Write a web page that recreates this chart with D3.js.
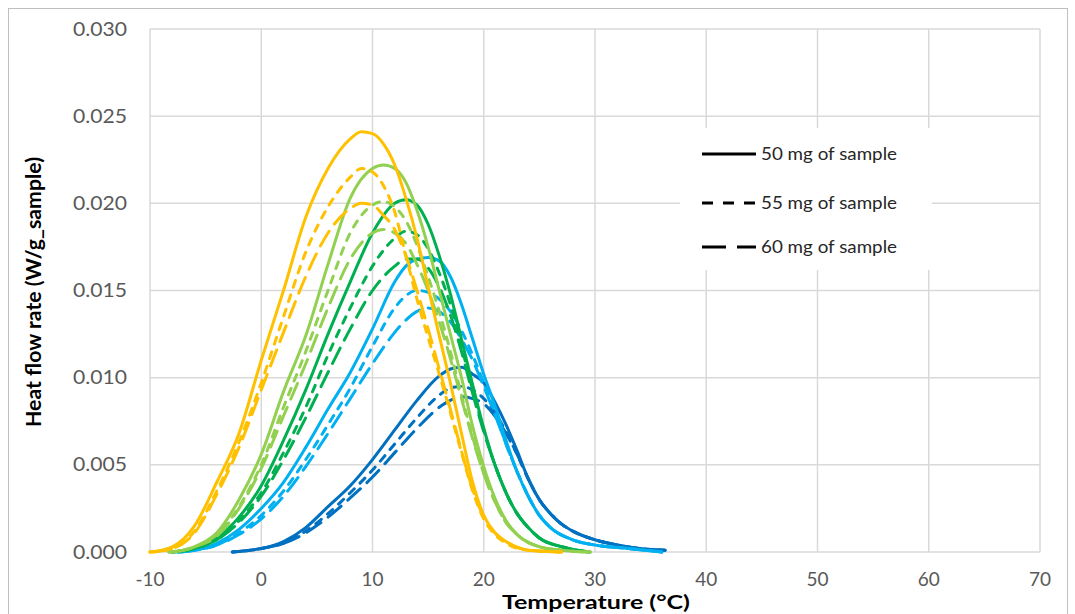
<!DOCTYPE html>
<html>
<head>
<meta charset="utf-8">
<script src="https://cdn.jsdelivr.net/npm/d3@7"></script>
<style>
  body { margin: 0; background: #fff; }
  text { font-family: Lato, "Open Sans", sans-serif; }
</style>
</head>
<body>
<div id="chart"></div>
<script>
const width = 1075;
const height = 614;

// temperature grids (°C), one per colour group
const tYellow = [-10, -8, -6, -4, -2, 0, 2, 4, 6, 8, 9, 10, 11, 12, 13, 14, 15, 16, 17, 18, 19, 20, 21, 22, 24, 27];
const tLightGreen = [-8.3, -7, -6, -4, -2, 0, 2, 4, 6, 8, 10, 11, 12, 13, 14, 15, 16, 17, 18, 19, 20, 21, 22, 23, 25, 27, 29.6];
const tGreen = [-8, -6, -4, -2, 0, 2, 4, 6, 8, 10, 12, 13, 14, 15, 16, 17, 18, 19, 20, 21, 22, 23, 24, 25, 27, 29.5];
const tLightBlue = [-7.5, -6, -4, -2, 0, 2, 4, 6, 8, 10, 12, 13, 14, 15, 16, 17, 18, 19, 20, 21, 22, 23, 24, 25, 26, 28, 30, 33, 36];
const tBlue = [-2.6, -1, 0, 2, 4, 6, 8, 10, 12, 14, 16, 17, 18, 19, 20, 21, 22, 23, 24, 25, 26, 27, 28, 30, 32, 34, 36.3];

// heat flow rate (W/g_sample)
const yellow50 = [0, 0.0003, 0.0015, 0.0040, 0.0068, 0.0110, 0.0150, 0.0192, 0.0220, 0.0237, 0.0241, 0.0240, 0.0234, 0.0222, 0.0203, 0.0180, 0.0152, 0.0124, 0.0097, 0.0068, 0.0040, 0.0021, 0.0011, 0.0006, 0.0001, 0];
const yellow55 = [0, 0.0002, 0.0012, 0.0035, 0.0063, 0.0097, 0.0135, 0.0172, 0.0198, 0.0215, 0.0220, 0.0218, 0.0210, 0.0195, 0.0170, 0.0145, 0.0123, 0.0102, 0.0080, 0.0057, 0.0035, 0.0019, 0.0010, 0.0005, 0.0001, 0];
const yellow60 = [0, 0.0002, 0.0011, 0.0033, 0.0060, 0.0093, 0.0126, 0.0158, 0.0183, 0.0197, 0.0200, 0.0199, 0.0193, 0.0185, 0.0170, 0.0150, 0.0128, 0.0105, 0.0082, 0.0058, 0.0036, 0.0020, 0.0011, 0.0006, 0.0001, 0];

const lightGreen50 = [0, 0.0001, 0.0003, 0.0011, 0.0030, 0.0056, 0.0092, 0.0124, 0.0165, 0.0203, 0.0220, 0.0222, 0.0220, 0.0212, 0.0196, 0.0175, 0.0150, 0.0125, 0.0100, 0.0072, 0.0049, 0.0031, 0.0018, 0.0010, 0.0003, 0.0001, 0];
const lightGreen55 = [0, 0.0001, 0.0003, 0.0010, 0.0026, 0.0050, 0.0083, 0.0115, 0.0150, 0.0183, 0.0199, 0.0201, 0.0198, 0.0190, 0.0176, 0.0158, 0.0138, 0.0115, 0.0090, 0.0066, 0.0045, 0.0029, 0.0017, 0.0010, 0.0003, 0.0001, 0];
const lightGreen60 = [0, 0.0001, 0.0003, 0.0009, 0.0025, 0.0048, 0.0078, 0.0108, 0.0140, 0.0168, 0.0183, 0.0185, 0.0183, 0.0177, 0.0165, 0.0150, 0.0132, 0.0111, 0.0088, 0.0065, 0.0045, 0.0029, 0.0017, 0.0010, 0.0003, 0.0001, 0];

const green50 = [0, 0.0002, 0.0008, 0.0020, 0.0038, 0.0064, 0.0093, 0.0125, 0.0155, 0.0183, 0.0200, 0.0202, 0.0199, 0.0188, 0.0170, 0.0148, 0.0122, 0.0096, 0.0071, 0.0050, 0.0034, 0.0022, 0.0014, 0.0008, 0.0003, 0];
const green55 = [0, 0.0002, 0.0007, 0.0018, 0.0034, 0.0057, 0.0083, 0.0113, 0.0140, 0.0164, 0.0180, 0.0184, 0.0182, 0.0174, 0.0160, 0.0142, 0.0118, 0.0093, 0.0070, 0.0050, 0.0034, 0.0022, 0.0014, 0.0008, 0.0003, 0];
const green60 = [0, 0.0002, 0.0007, 0.0017, 0.0032, 0.0053, 0.0077, 0.0103, 0.0128, 0.0150, 0.0164, 0.0168, 0.0168, 0.0163, 0.0152, 0.0136, 0.0115, 0.0091, 0.0069, 0.0050, 0.0034, 0.0022, 0.0014, 0.0008, 0.0003, 0];

const lightBlue50 = [0, 0.0001, 0.0005, 0.0013, 0.0025, 0.0040, 0.0060, 0.0082, 0.0103, 0.0128, 0.0155, 0.0164, 0.0168, 0.0169, 0.0167, 0.0158, 0.0142, 0.0122, 0.0102, 0.0084, 0.0064, 0.0046, 0.0032, 0.0021, 0.0014, 0.0007, 0.0004, 0.0002, 0];
const lightBlue55 = [0, 0.0001, 0.0004, 0.0011, 0.0021, 0.0035, 0.0053, 0.0073, 0.0094, 0.0118, 0.0140, 0.0147, 0.0150, 0.0149, 0.0145, 0.0138, 0.0127, 0.0113, 0.0097, 0.0080, 0.0062, 0.0046, 0.0032, 0.0021, 0.0014, 0.0007, 0.0004, 0.0002, 0];
const lightBlue60 = [0, 0.0001, 0.0004, 0.0010, 0.0019, 0.0032, 0.0049, 0.0068, 0.0088, 0.0108, 0.0126, 0.0133, 0.0138, 0.0140, 0.0138, 0.0132, 0.0122, 0.0110, 0.0095, 0.0079, 0.0062, 0.0046, 0.0032, 0.0021, 0.0014, 0.0007, 0.0004, 0.0002, 0];

const blue50 = [0, 0.0001, 0.0002, 0.0006, 0.0014, 0.0026, 0.0038, 0.0053, 0.0070, 0.0087, 0.0101, 0.0105, 0.0106, 0.0102, 0.0097, 0.0086, 0.0073, 0.0058, 0.0042, 0.0030, 0.0022, 0.0016, 0.0012, 0.0007, 0.0004, 0.0002, 0.0001];
const blue55 = [0, 0.0001, 0.0002, 0.0005, 0.0012, 0.0022, 0.0034, 0.0047, 0.0062, 0.0077, 0.0090, 0.0094, 0.0095, 0.0093, 0.0088, 0.0080, 0.0069, 0.0056, 0.0042, 0.0030, 0.0022, 0.0016, 0.0012, 0.0007, 0.0004, 0.0002, 0.0001];
const blue60 = [0, 0.0001, 0.0002, 0.0005, 0.0011, 0.0020, 0.0031, 0.0043, 0.0057, 0.0071, 0.0083, 0.0087, 0.0089, 0.0088, 0.0085, 0.0078, 0.0068, 0.0056, 0.0042, 0.0030, 0.0022, 0.0016, 0.0012, 0.0007, 0.0004, 0.0002, 0.0001];

const xTicks = [-10, 0, 10, 20, 30, 40, 50, 60, 70];
const yTicks = [0, 0.005, 0.010, 0.015, 0.020, 0.025, 0.030];
const legendLabels = ["50 mg of sample", "55 mg of sample", "60 mg of sample"];
const dashes = ["none", "7,8", "17,9"];

const groups = [
    { color: "#0070C0", t: tBlue, vals: [blue50, blue55, blue60] },
    { color: "#00B0F0", t: tLightBlue, vals: [lightBlue50, lightBlue55, lightBlue60] },
    { color: "#00B050", t: tGreen, vals: [green50, green55, green60] },
    { color: "#92D050", t: tLightGreen, vals: [lightGreen50, lightGreen55, lightGreen60] },
    { color: "#FFC000", t: tYellow, vals: [yellow50, yellow55, yellow60] }
];

const svg = d3.select("#chart").append("svg")
    .attr("width", width)
    .attr("height", height);

svg.append("rect").attr("width", width).attr("height", height).attr("fill", "#fff");
svg.append("rect")
    .attr("x", 8.5).attr("y", 8.5)
    .attr("width", 1059).attr("height", 640)
    .attr("fill", "none").attr("stroke", "#bfbfbf").attr("stroke-width", 1);

const x = d3.scaleLinear().domain([-10, 70]).range([150, 1040]);
const y = d3.scaleLinear().domain([0, 0.030]).range([552, 29]);

// grid
svg.append("g").selectAll("line")
    .data(yTicks)
    .enter().append("line")
    .attr("x1", x(-10)).attr("x2", x(70))
    .attr("y1", d => y(d)).attr("y2", d => y(d))
    .attr("stroke", "#d9d9d9").attr("stroke-width", 1.5);

svg.append("g").selectAll("line")
    .data(xTicks)
    .enter().append("line")
    .attr("x1", d => x(d)).attr("x2", d => x(d))
    .attr("y1", y(0)).attr("y2", y(0.030))
    .attr("stroke", "#d9d9d9").attr("stroke-width", 1.5);

// legend box (covers grid)
svg.append("rect")
    .attr("x", 680).attr("y", 128)
    .attr("width", 252).attr("height", 142)
    .attr("fill", "#fff");

// tick labels
svg.append("g").selectAll("text")
    .data(yTicks)
    .enter().append("text")
    .attr("x", 127).attr("y", d => y(d))
    .attr("dy", "0.35em")
    .attr("text-anchor", "end")
    .attr("font-size", 19)
    .attr("fill", "#595959")
    .attr("textLength", 54)
    .attr("lengthAdjust", "spacingAndGlyphs")
    .text(d3.format(".3f"));

svg.append("g").selectAll("text")
    .data(xTicks)
    .enter().append("text")
    .attr("x", d => x(d)).attr("y", 579)
    .attr("dy", "0.35em")
    .attr("text-anchor", "middle")
    .attr("font-size", 19)
    .attr("fill", "#595959")
    .text(d => d);

// axis titles
svg.append("text")
    .attr("transform", "translate(41,292) rotate(-90)")
    .attr("text-anchor", "middle")
    .attr("font-size", 21)
    .attr("font-weight", "bold")
    .attr("fill", "#000")
    .attr("textLength", 270)
    .attr("lengthAdjust", "spacingAndGlyphs")
    .text("Heat flow rate (W/g_sample)");

svg.append("text")
    .attr("x", 596).attr("y", 609)
    .attr("text-anchor", "middle")
    .attr("font-size", 19)
    .attr("font-weight", "bold")
    .attr("fill", "#000")
    .attr("textLength", 188)
    .attr("lengthAdjust", "spacingAndGlyphs")
    .text("Temperature (°C)");

// curves
const line = d3.line()
    .x(d => x(d[0]))
    .y(d => y(d[1]))
    .curve(d3.curveMonotoneX);

groups.forEach(g => {
    g.vals.forEach((vals, i) => {
        const pts = g.t.map((t, j) => [t, vals[j]]);
        svg.append("path")
            .datum(pts)
            .attr("d", line)
            .attr("fill", "none")
            .attr("stroke", g.color)
            .attr("stroke-width", 3)
            .attr("stroke-linecap", "round")
            .attr("stroke-dasharray", dashes[i]);
    });
});

// legend
const legendY = [154, 203, 247];
const leg = svg.append("g").selectAll("g")
    .data(legendLabels)
    .enter().append("g");

leg.append("line")
    .attr("x1", 702).attr("x2", 756)
    .attr("y1", (d, i) => legendY[i]).attr("y2", (d, i) => legendY[i])
    .attr("stroke", "#000").attr("stroke-width", 3)
    .attr("stroke-dasharray", (d, i) => i === 0 ? "none" : (i === 1 ? "11,10" : "24,11"));

leg.append("text")
    .attr("x", 761).attr("y", (d, i) => legendY[i])
    .attr("dy", "0.35em")
    .attr("font-size", 17)
    .attr("fill", "#262626")
    .attr("textLength", 136)
    .attr("lengthAdjust", "spacingAndGlyphs")
    .text(d => d);
</script>
</body>
</html>
